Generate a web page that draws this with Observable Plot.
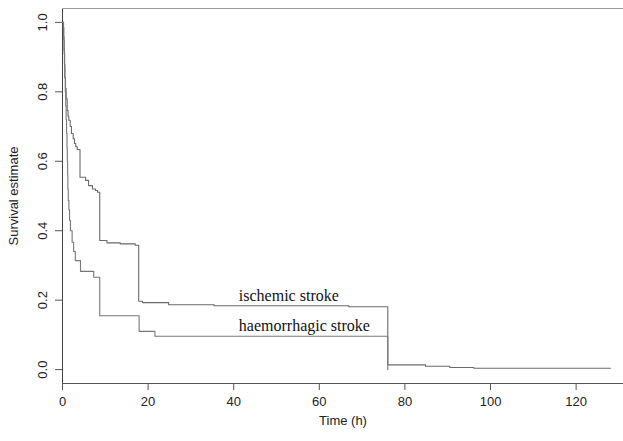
<!DOCTYPE html>
<html><head><meta charset="utf-8">
<script src="https://cdn.jsdelivr.net/npm/d3@7"></script>
<script src="https://cdn.jsdelivr.net/npm/@observablehq/plot@0.6"></script>
<style>
body{margin:0;background:#fff;}
#chart svg{display:block;}
</style>
</head><body><div id="chart"></div>
<script>
// Kaplan–Meier survival estimates (time in hours)
const ischemicTime = [0, 0.2, 0.3, 0.4, 0.5, 0.55, 0.7, 0.85, 1.1, 1.3, 1.47, 1.8, 2.1, 2.5, 2.8, 3.1, 3.43, 4.09, 5.4, 6.1, 7.0, 7.7, 8.2, 8.7, 10.4, 13.5, 17.0, 17.8, 18.7, 24.8, 35.4, 66.9, 76.0, 84.8, 90.5, 96.1, 128];
const ischemicSurv = [1.0, 0.985, 0.95, 0.91, 0.87, 0.842, 0.81, 0.78, 0.746, 0.73, 0.718, 0.70, 0.68, 0.665, 0.651, 0.642, 0.634, 0.554, 0.545, 0.53, 0.52, 0.516, 0.511, 0.372, 0.365, 0.362, 0.358, 0.197, 0.193, 0.187, 0.184, 0.181, 0.0135, 0.0095, 0.006, 0.004, 0.004];
const haemTime = [0, 0.25, 0.35, 0.45, 0.55, 0.65, 0.75, 0.85, 0.95, 1.05, 1.12, 1.2, 1.25, 1.35, 1.5, 1.65, 1.85, 2.25, 2.6, 3.0, 4.2, 7.3, 8.7, 17.9, 21.6, 76.0];
const haemSurv = [1.0, 0.96, 0.92, 0.88, 0.84, 0.80, 0.76, 0.72, 0.68, 0.64, 0.60, 0.56, 0.52, 0.487, 0.46, 0.43, 0.40, 0.367, 0.34, 0.314, 0.283, 0.266, 0.155, 0.11, 0.096, 0];

const xTicks = [0, 20, 40, 60, 80, 100, 120];
const yTicks = [0, 0.2, 0.4, 0.6, 0.8, 1.0];
const curveLabels = ["ischemic stroke", "haemorrhagic stroke"];
const curveLabelX = [41.2, 41.2];
const curveLabelY = [0.212, 0.126];

const ischemic = ischemicTime.map((t, i) => ({t, s: ischemicSurv[i]}));
const haem = haemTime.map((t, i) => ({t, s: haemSurv[i]}));
const labels = curveLabels.map((name, i) => ({name, t: curveLabelX[i], s: curveLabelY[i]}));

const xDomain = [0, 131.07];
const yDomain = [-0.04, 1.04];

const chart = Plot.plot({
  width: 623,
  height: 441,
  marginLeft: 62,
  marginRight: 0,
  marginTop: 8,
  marginBottom: 58,
  style: {fontFamily: "'Liberation Sans', Arial, sans-serif", fontSize: "13px", color: "#222", background: "#fff"},
  x: {domain: xDomain},
  y: {domain: yDomain},
  marks: [
    Plot.ruleX([xDomain[0]], {stroke: "#444", strokeWidth: 1}),
    Plot.ruleY([yDomain[0]], {stroke: "#555", strokeWidth: 1}),
    Plot.ruleY([yDomain[1]], {stroke: "#999", strokeWidth: 1}),
    Plot.axisX({ticks: xTicks, tickSize: 7, tickPadding: 6, stroke: "#555", label: "Time (h)", labelAnchor: "center", labelArrow: "none", labelOffset: 41, fontSize: 13}),
    Plot.axisY({ticks: yTicks, tickSize: 7, tickRotate: -90, tickPadding: 9, tickFormat: d3.format(".1f"), stroke: "#555", label: "Survival estimate", labelAnchor: "center", labelArrow: "none", labelOffset: 54, fontSize: 13}),
    Plot.line(ischemic, {x: "t", y: "s", curve: "step-after", stroke: "#6a6a6a", strokeWidth: 1.1}),
    Plot.line(haem, {x: "t", y: "s", curve: "step-after", stroke: "#777", strokeWidth: 1.1}),
    Plot.text(labels, {x: "t", y: "s", text: "name", textAnchor: "start", fontFamily: "'Liberation Serif', 'Times New Roman', serif", fontSize: 16, fill: "#111"})
  ]
});
document.getElementById("chart").append(chart);
</script>
</body></html>
